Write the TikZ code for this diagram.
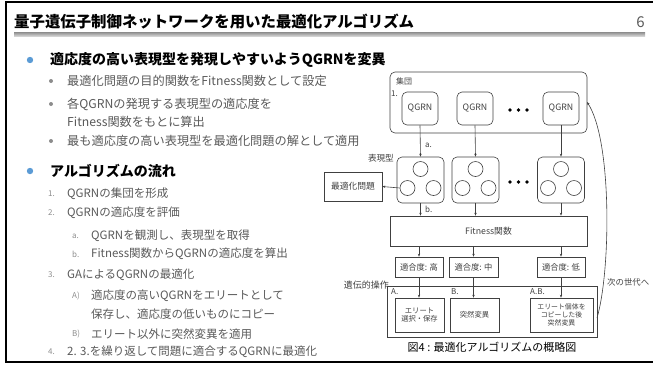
\documentclass[tikz,border=0pt]{standalone}
\usepackage{fontspec}
\setmainfont{Noto Sans CJK JP}
\usetikzlibrary{arrows.meta}
\definecolor{bluedot}{HTML}{5B9BD5}
\definecolor{subgray}{HTML}{595959}
\definecolor{dotgray}{HTML}{8C8C8C}
\definecolor{lineg}{HTML}{404040}
\tikzset{
  txt/.style={anchor=west,inner sep=0pt,font=\fontsize{11.5}{13}\selectfont,text=subgray},
  btxt/.style={anchor=west,inner sep=0pt,font=\fontsize{12.2}{14}\selectfont,text=subgray},
  head/.style={anchor=west,inner sep=0pt,font=\fontsize{14}{16}\bfseries\selectfont,text=black},
  num/.style={anchor=west,inner sep=0pt,font=\fontsize{8}{9}\selectfont,text=dotgray},
  rbox/.style={draw=lineg,line width=0.6pt,rounded corners=5pt},
  sbox/.style={draw=lineg,line width=0.6pt},
  dtxt/.style={inner sep=0pt,font=\fontsize{8.8}{10}\selectfont,text=lineg,align=center},
  stxt/.style={inner sep=0pt,font=\fontsize{7.3}{8.6}\selectfont,text=lineg,align=center},
  lbl/.style={inner sep=0pt,font=\fontsize{8}{9}\selectfont,text=lineg},
  arr/.style={draw=lineg,line width=0.6pt,-{Stealth[length=3pt,width=2.4pt]}},
  circ/.style={draw=lineg,line width=0.6pt,circle,minimum size=15pt,inner sep=0pt},
}
\begin{document}
\begin{tikzpicture}[x=1pt,y=-1pt]
\useasboundingbox (0,0) rectangle (653,368);
% frame
\draw[line width=2pt] (653,2) -- (6,2) -- (6,362) -- (653,362);
% title
\node[anchor=west,inner sep=0pt,font=\fontsize{15.4}{17}\bfseries\selectfont] (title) at (14,22) {量子遺伝子制御ネットワークを用いた最適化アルゴリズム};
\node[anchor=east,inner sep=0pt,font=\fontsize{15}{17}\selectfont,text=subgray] (pnum) at (645,22) {6};
\shade[top color=gray!90,bottom color=gray!35] (14,32) rectangle (645,36);
% bullets
\fill[bluedot] (30,60) circle (3.2);
\node[head] (h1) at (50,60) {適応度の高い表現型を発現しやすいようQGRNを変異};
\fill[dotgray] (51,81) circle (2);
\node[btxt] (s1) at (67,81) {最適化問題の目的関数をFitness関数として設定};
\fill[dotgray] (51,104) circle (2);
\node[btxt] (s2) at (67,104) {各QGRNの発現する表現型の適応度を};
\node[btxt] (s2b) at (67,122) {Fitness関数をもとに算出};
\fill[dotgray] (51,141) circle (2);
\node[btxt] (s3) at (67,141) {最も適応度の高い表現型を最適化問題の解として適用};
\fill[bluedot] (30,171) circle (3.2);
\node[head] (h2) at (50,171) {アルゴリズムの流れ};
\node[num] (n1) at (48,194) {1.};
\node[txt] (t1) at (67,194) {QGRNの集団を形成};
\node[num] (n2) at (48,213) {2.};
\node[txt] (t2) at (67,213) {QGRNの適応度を評価};
\node[num] (na) at (72,236) {a.};
\node[txt] (ta) at (91,236) {QGRNを観測し、表現型を取得};
\node[num] (nb) at (72,254) {b.};
\node[txt] (tb) at (91,254) {Fitness関数からQGRNの適応度を算出};
\node[num] (n3) at (48,275) {3.};
\node[txt] (t3) at (67,275) {GAによるQGRNの最適化};
\node[num] (nA) at (72,296) {A)};
\node[txt] (tA) at (91,296) {適応度の高いQGRNをエリートとして};
\node[txt] (tA2) at (91,314) {保存し、適応度の低いものにコピー};
\node[num] (nB) at (72,334) {B)};
\node[txt] (tB) at (91,334) {エリート以外に突然変異を適用};
\node[num] (n4) at (48,352) {4.};
\node[txt] (t4) at (67,352) {2. 3.を繰り返して問題に適合するQGRNに最適化};
% ---- diagram ----
\draw[rbox] (390,72) rectangle (587,133);
\coordinate (popE) at (587,102);
\node[lbl,anchor=west] (lpop) at (396,81) {集団};
\node[lbl,anchor=west] (l1) at (391,94) {1.};
\node[rbox,dtxt,minimum width=36pt,minimum height=33pt] (q1) at (420,108.5) {QGRN};
\node[rbox,dtxt,minimum width=36pt,minimum height=33pt] (q2) at (475,108.5) {QGRN};
\node[rbox,dtxt,minimum width=36pt,minimum height=33pt] (q3) at (561,108.5) {QGRN};
\foreach \x in {510,518.5,527} \fill[black] (\x,110) circle (1.8);
% phenotypes
\foreach \n/\cx in {1/420.5,2/475.5,3/561}{
  \node[rbox,minimum width=47pt,minimum height=46pt] (p\n) at (\cx,180) {};
  \node[circ] (p\n t) at (\cx,169) {};
  \node[circ] (p\n l) at (\cx-13,188) {};
  \node[circ] (p\n r) at (\cx+13,188) {};
}
\foreach \x in {510,518.5,527} \fill[black] (\x,182) circle (1.8);
\node[lbl,anchor=east,font=\fontsize{8.6}{10}\selectfont] (lphen) at (394,158) {表現型};
\node[sbox,dtxt,minimum width=58pt,minimum height=29pt] (opt) at (353,186.5) {最適化問題};
\draw[arr] (p1l.west) -- (opt.east);
\draw[arr] (q1.south) -- (p1.north);
\draw[arr] (q2.south) -- (p2.north);
\draw[arr] (q3.south) -- (p3.north);
\node[lbl,anchor=west] (la) at (425,145) {a.};
% fitness
\node[sbox,dtxt,minimum width=197pt,minimum height=30pt] (fit) at (488.5,231) {Fitness関数};
\draw[arr] (p1.south) -- (p1.south |- fit.north);
\draw[arr] (p2.south) -- (p2.south |- fit.north);
\draw[arr] (p3.south) -- (p3.south |- fit.north);
\node[lbl,anchor=west] (lb) at (425,209) {b.};
% fitness levels
\node[sbox,dtxt,minimum width=48pt,minimum height=20pt,font=\fontsize{8.3}{10}\selectfont] (f1) at (419,267) {適合度: 高};
\node[sbox,dtxt,minimum width=49pt,minimum height=20pt,font=\fontsize{8.3}{10}\selectfont] (f2) at (473.5,267) {適合度: 中};
\node[sbox,dtxt,minimum width=48pt,minimum height=20pt,font=\fontsize{8.3}{10}\selectfont] (f3) at (561,267) {適合度: 低};
\draw[arr] (fit.south -| f1.north) -- (f1.north);
\draw[arr] (fit.south -| f2.north) -- (f2.north);
\draw[arr] (fit.south -| f3.north) -- (f3.north);
% genetic operations
\draw[sbox] (387,286) rectangle (597,337);
\coordinate (genE) at (597,318);
\node[lbl,anchor=east,font=\fontsize{9}{10}\selectfont] (lgen) at (389,285) {遺伝的操作};
\node[lbl,anchor=west] (lA) at (391,292) {A.};
\node[lbl,anchor=west] (lB) at (451,292) {B.};
\node[lbl,anchor=west] (lAB) at (530,292) {A.B.};
\node[sbox,stxt,minimum width=49pt,minimum height=34pt] (g1) at (419.5,315) {エリート\\選択・保存};
\node[sbox,stxt,minimum width=49pt,minimum height=34pt] (g2) at (474.5,315) {突然変異};
\node[sbox,stxt,minimum width=63pt,minimum height=34pt,font=\fontsize{6.9}{8}\selectfont] (g3) at (561.5,315) {エリート個体を\\コピーした後\\突然変異};
\draw[arr] (f1.south) -- (f1.south |- g1.north);
\draw[arr] (f2.south) -- (f2.south |- g2.north);
\draw[arr] (f3.south) -- (f3.south |- g3.north);
% feedback
\draw[arr] (genE) .. controls (611,270) and (612,140) .. (popE);
\node[lbl,anchor=west,font=\fontsize{8.4}{9}\selectfont] (lnext) at (607,282) {次の世代へ};
% caption
\node[inner sep=0pt,font=\fontsize{11}{12}\selectfont] (cap) at (492,347) {図4 : 最適化アルゴリズムの概略図};
\end{tikzpicture}
\end{document}
